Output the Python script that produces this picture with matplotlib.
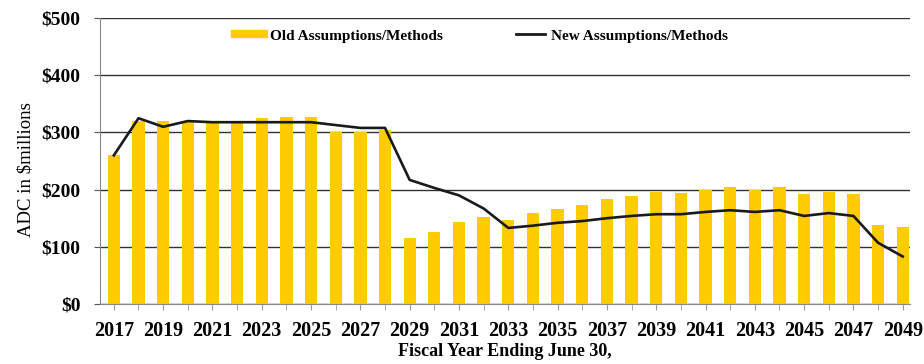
import matplotlib
matplotlib.use("Agg")
import matplotlib.pyplot as plt
from matplotlib.lines import Line2D

plt.rcParams['font.family'] = ['Liberation Serif', 'DejaVu Serif']

years = list(range(2017, 2050))
old_adc = [260, 320, 320, 318, 318, 318, 325, 327, 327, 301, 300, 305,
           115, 126, 144, 152, 147, 159, 167, 173, 183, 189, 196, 195,
           200, 204, 200, 204, 192, 196, 192, 138, 134]
new_adc = [260, 325, 310, 320, 318, 318, 318, 318, 318, 313, 308, 308,
           217, 203, 190, 167, 133, 137, 142, 145, 150, 154, 157, 157,
           161, 164, 161, 164, 154, 159, 154, 107, 83]
tick_years = years[::2]
y_ticks = [0, 100, 200, 300, 400, 500]
y_labels = ['$0', '$100', '$200', '$300', '$400', '$500']
old_name = 'Old Assumptions/Methods'
new_name = 'New Assumptions/Methods'
gold = '#FFCC00'

fig = plt.figure(figsize=(9.24, 3.64), dpi=100)
ax = fig.add_axes([0.108, 0.165, 0.877, 0.785])

ax.bar(years, old_adc, width=0.5, color=gold, zorder=2)
ax.plot(years, new_adc, color='#1a1a1a', linewidth=1.9, zorder=3)

ax.set_ylim(0, 500)
ax.set_xlim(2016.43, 2049.3)
ax.set_yticks(y_ticks)
ax.set_yticklabels(y_labels)
ax.set_xticks(tick_years)
ax.set_xticks(years, minor=True)
ax.grid(axis='y', color='#333333', linewidth=1, zorder=1)
ax.set_axisbelow(True)

for s in ['top', 'right']:
    ax.spines[s].set_visible(False)
ax.spines['left'].set_color('#888888')
ax.spines['bottom'].set_color('#888888')
ax.tick_params(axis='y', length=4, color='#555555', labelsize=14, pad=10)
ax.tick_params(axis='x', which='both', length=4, color='#999999', labelsize=14.5, pad=8)
for lbl in ax.get_xticklabels() + ax.get_yticklabels():
    lbl.set_fontweight('bold')

ax.set_ylabel('ADC in $millions', fontsize=13.5)
ax.yaxis.set_label_coords(-0.08, 0.47)
ax.set_xlabel('Fiscal Year Ending June 30,', fontsize=13, fontweight='bold')
ax.xaxis.set_label_coords(0.5, -0.135)

handles = [Line2D([], [], color=gold, linewidth=6),
           Line2D([], [], color='#1a1a1a', linewidth=2)]
leg = ax.legend(handles, [old_name, new_name], loc='upper center',
                bbox_to_anchor=(0.471, 1.0), ncol=2, frameon=False,
                fontsize=11, handlelength=1.9, handletextpad=0.4,
                columnspacing=4.8, borderaxespad=0.3)
for t in leg.get_texts():
    t.set_fontweight('bold')

fig.savefig('out.png', dpi=100)
